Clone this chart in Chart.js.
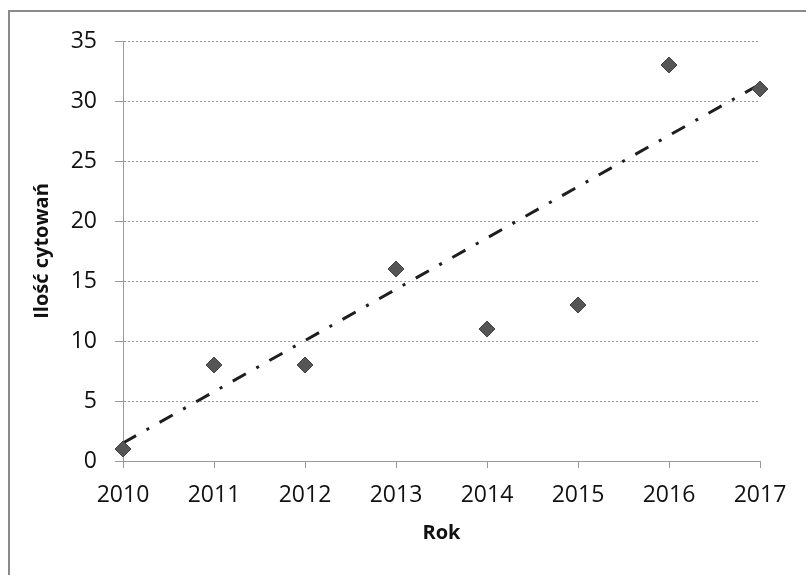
<!DOCTYPE html>
<html>
<head>
<meta charset="utf-8">
<script src="https://cdn.jsdelivr.net/npm/chart.js@4"></script>
<style>
  body { margin: 0; background: #fff; }
  #ramka { position: absolute; left: 8px; top: 10px; width: 820px; height: 600px;
           border-left: 2px solid #8a8a8a; border-top: 2px solid #8a8a8a; }
  #wykres { position: absolute; left: 0; top: 0; }
</style>
</head>
<body>
<div id="ramka"></div>
<canvas id="wykres" width="806" height="575"></canvas>
<script>
// dane
const lata = [2010, 2011, 2012, 2013, 2014, 2015, 2016, 2017];
const cytowania = [1, 8, 8, 16, 11, 13, 33, 31];
// linia trendu - końce
const trendLata = [2010, 2017];
const trendWartosci = [1.5, 31.4];
const yTicki = [0, 5, 10, 15, 20, 25, 30, 35];

const punkty = lata.map((r, i) => ({ x: r, y: cytowania[i] }));
const trend = trendLata.map((r, i) => ({ x: r, y: trendWartosci[i] }));

const ctx = document.getElementById('wykres').getContext('2d');

new Chart(ctx, {
    type: 'scatter',
    data: {
        datasets: [{
            label: 'Ilość cytowań',
            data: punkty,
            order: 0,
            pointStyle: 'rectRot',
            pointRadius: 8,
            pointHoverRadius: 8,
            backgroundColor: '#555555',
            borderColor: '#444444',
            borderWidth: 1,
            clip: false
        }, {
            label: 'Trend',
            type: 'line',
            data: trend,
            order: 1,
            borderColor: '#1e1e1e',
            borderWidth: 3,
            borderDash: [15, 12, 3, 12],
            pointRadius: 0,
            fill: false,
            clip: false
        }]
    },
    options: {
        responsive: false,
        animation: false,
        layout: { padding: { left: 20, top: 41, right: 46, bottom: 30 } },
        plugins: {
            legend: { display: false },
            tooltip: { enabled: false }
        },
        scales: {
            x: {
                type: 'linear',
                min: 2010,
                max: 2017,
                afterBuildTicks: s => { s.ticks = lata.map(v => ({ value: v })); },
                ticks: {
                    callback: v => String(v),
                    color: '#111',
                    font: { family: 'Open Sans', size: 23 },
                    padding: 14,
                    maxRotation: 0
                },
                grid: {
                    drawOnChartArea: false,
                    drawTicks: true,
                    tickLength: 7,
                    color: '#9a9a9a'
                },
                border: { display: true, color: '#9a9a9a', dash: [2, 2] },
                title: {
                    display: true,
                    text: 'Rok',
                    color: '#111',
                    font: { family: 'Open Sans', size: 20, weight: 'bold' },
                    padding: { top: 8, bottom: 0 }
                },
                afterFit: s => { s.height = 84; }
            },
            y: {
                min: 0,
                max: 35,
                afterBuildTicks: s => { s.ticks = yTicki.map(v => ({ value: v })); },
                ticks: {
                    color: '#111',
                    font: { family: 'Open Sans', size: 23 },
                    padding: 18
                },
                grid: {
                    color: '#9a9a9a',
                    lineWidth: 1,
                    tickLength: 8
                },
                border: { display: true, color: '#9a9a9a', dash: [2, 2] },
                title: {
                    display: true,
                    text: 'Ilość cytowań',
                    color: '#111',
                    font: { family: 'Open Sans', size: 20, weight: 'bold' },
                    padding: { top: 10, bottom: 0 }
                },
                afterFit: s => { s.width = 103; }
            }
        }
    }
});
</script>
</body>
</html>
